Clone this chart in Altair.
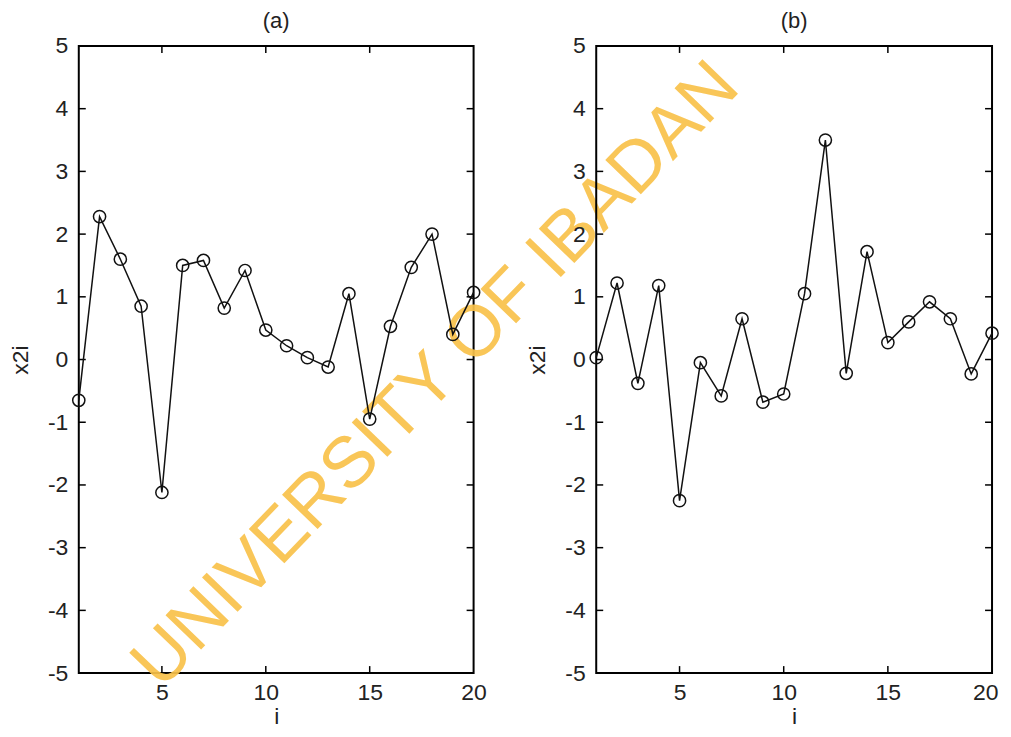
import altair as alt
import pandas as pd

idx = list(range(1, 21))
xa = [-0.65, 2.28, 1.60, 0.85, -2.12, 1.50, 1.58, 0.82, 1.42, 0.47,
      0.22, 0.03, -0.12, 1.05, -0.95, 0.53, 1.47, 2.00, 0.40, 1.07]
xb = [0.03, 1.22, -0.38, 1.18, -2.25, -0.05, -0.58, 0.65, -0.68, -0.55,
      1.05, 3.50, -0.22, 1.72, 0.27, 0.60, 0.92, 0.65, -0.23, 0.42]
x_tick_vals = [5, 10, 15]
y_tick_vals = [-4, -3, -2, -1, 0, 1, 2, 3, 4]
x_label_vals = [5, 10, 15, 20]
y_label_vals = [-5, -4, -3, -2, -1, 0, 1, 2, 3, 4, 5]
watermark = "UNIVERSITY OF IBADAN"

FONT = "Liberation Sans"
H = 629
XMIN, XMAX, YMIN, YMAX = 1, 20, -5, 5
FS = 23


def panel(vals, title, w, add_mark=False, flush=False):
    df = pd.DataFrame({"i": idx, "v": vals})
    xs = alt.Scale(domain=[XMIN, XMAX], nice=False, zero=False)
    ys = alt.Scale(domain=[YMIN, YMAX], nice=False, zero=False)
    xkw = dict(labelFlush=True, labelFlushOffset=6) if flush else dict(labelFlush=False)
    xaxis = alt.Axis(values=x_label_vals, tickSize=0, domain=False, grid=False,
                     labelFontSize=FS, titleFontSize=FS, labelPadding=8,
                     titlePadding=2, labelFont=FONT, titleFont=FONT,
                     titleFontWeight="normal", labelColor="#222", titleColor="#222",
                     title="i", labelExpr="toString(datum.value)", **xkw)
    yaxis = alt.Axis(values=y_label_vals, tickSize=0, domain=False, grid=False,
                     labelFontSize=FS, titleFontSize=FS, labelPadding=11,
                     titlePadding=15, labelFont=FONT, titleFont=FONT,
                     titleFontWeight="normal", labelColor="#222", titleColor="#222",
                     title="x2i", labelExpr="toString(datum.value)")
    base = alt.Chart(df)
    dy = 7 * (YMAX - YMIN) / H
    dx = 7 * (XMAX - XMIN) / w
    tx = pd.DataFrame(
        [{"x": t, "y": YMIN, "y2": YMIN + dy} for t in x_tick_vals]
        + [{"x": t, "y": YMAX, "y2": YMAX - dy} for t in x_tick_vals])
    ty = pd.DataFrame(
        [{"y": t, "x": XMIN, "x2": XMIN + dx} for t in y_tick_vals]
        + [{"y": t, "x": XMAX, "x2": XMAX - dx} for t in y_tick_vals])
    layers = []
    if add_mark:
        wm = alt.Chart(pd.DataFrame({"t": [watermark]})).mark_text(
            angle=314, fontSize=72, font=FONT, color="#F9C24A", opacity=0.92
        ).encode(text="t:N", x=alt.value(358), y=alt.value(330))
        layers.append(wm)
    xticks = alt.Chart(tx).mark_rule(color="black", strokeWidth=1.5).encode(
        x=alt.X("x:Q", scale=xs, axis=xaxis), y=alt.Y("y:Q", scale=ys, axis=yaxis), y2="y2")
    yticks = alt.Chart(ty).mark_rule(color="black", strokeWidth=1.5).encode(
        x=alt.X("x:Q", scale=xs, axis=xaxis), x2="x2", y=alt.Y("y:Q", scale=ys, axis=yaxis))
    line = base.mark_line(color="#111", strokeWidth=1.5).encode(
        x=alt.X("i:Q", scale=xs, axis=xaxis), y=alt.Y("v:Q", scale=ys, axis=yaxis))
    pts = base.mark_point(shape="circle", filled=False, color="#111", size=150,
                          strokeWidth=1.5, opacity=1).encode(
        x=alt.X("i:Q", scale=xs, axis=xaxis), y=alt.Y("v:Q", scale=ys, axis=yaxis))
    layers += [xticks, yticks, line, pts]
    return alt.layer(*layers).properties(
        width=w, height=H,
        title=alt.Title(title, fontSize=22, font=FONT, fontWeight="normal",
                        color="#222", offset=2, frame="group"))


left = panel(xa, "(a)", 396, add_mark=True)
right = panel(xb, "(b)", 397, flush=True)

chart = alt.hconcat(left, right, spacing=123, bounds="flush").configure_view(
    stroke="black", strokeWidth=2
).properties(background="white", padding={"left": 0, "top": 0, "right": 0, "bottom": 0})

chart.save("out.html", embed_options={"renderer": "svg", "actions": False})
